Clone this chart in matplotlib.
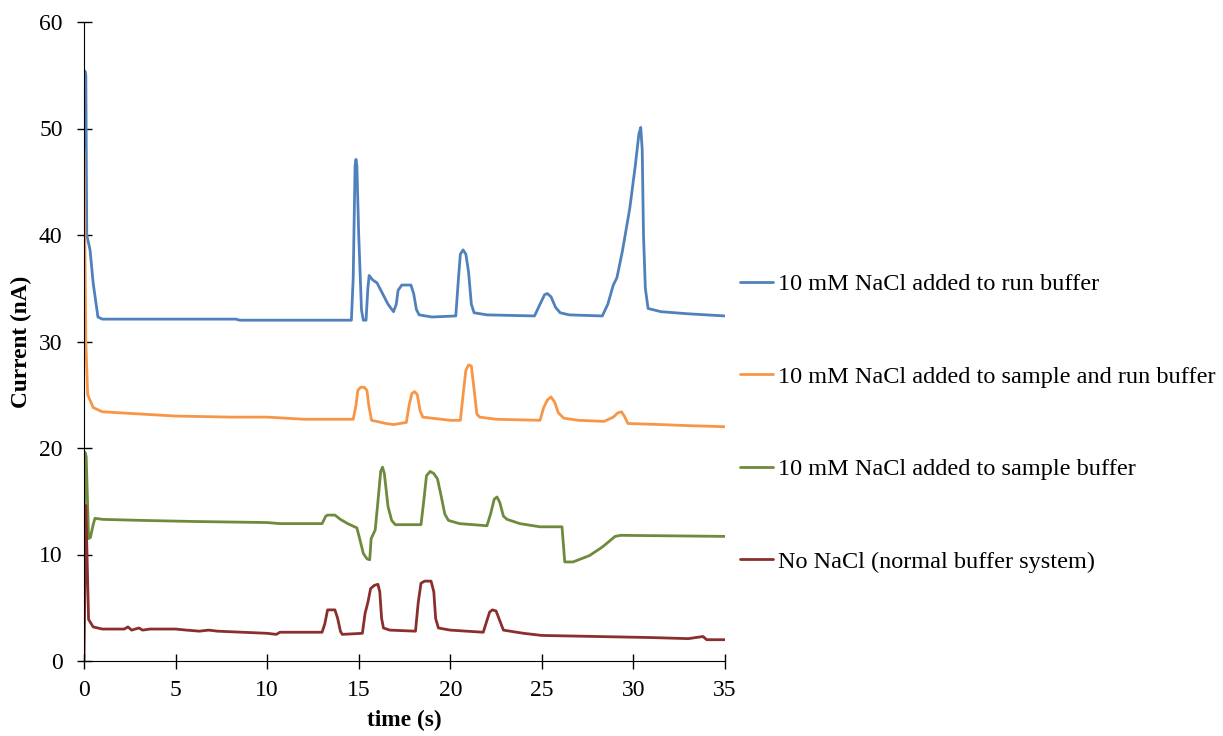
import matplotlib
matplotlib.use("Agg")
import matplotlib.pyplot as plt

plt.rcParams['font.family'] = ['Liberation Serif', 'DejaVu Serif']

# ---- data (time s, current nA) ----
run_t = [0, 0.05, 0.1, 0.15, 0.33, 0.5, 0.76, 1.0, 3, 6, 8.3, 8.5, 12, 14.6, 14.7, 14.8, 14.85, 14.9, 15.0, 15.15,
         15.25, 15.4, 15.5, 15.57, 15.75, 16.0, 16.3, 16.6, 16.9, 17.05, 17.15, 17.35, 17.85, 18.0, 18.15, 18.3,
         19.0, 20.3, 20.45, 20.55, 20.7, 20.85, 21.0, 21.15, 21.3, 22, 24.6, 24.9, 25.15, 25.3, 25.5, 25.75, 26.0,
         26.5, 28.3, 28.6, 28.9, 29.1, 29.4, 29.8, 30.1, 30.3, 30.4, 30.48, 30.55, 30.65, 30.8, 31.5, 33, 35]
run_v = [48, 55.4, 55, 40, 38.6, 35.5, 32.3, 32.1, 32.1, 32.1, 32.1, 32.0, 32.0, 32.0, 36, 46.5, 47.1, 46.5, 40, 33,
         32.0, 32.0, 35, 36.2, 35.8, 35.5, 34.5, 33.5, 32.8, 33.5, 34.8, 35.3, 35.3, 34.5, 33.0, 32.5,
         32.3, 32.4, 36, 38.2, 38.6, 38.2, 36.5, 33.5, 32.7, 32.5, 32.4, 33.5, 34.4, 34.5, 34.2, 33.2, 32.7,
         32.5, 32.4, 33.5, 35.3, 36.0, 38.5, 42.5, 46.5, 49.5, 50.1, 48, 40, 35, 33.1, 32.8, 32.6, 32.4]

samprun_t = [0, 0.1, 0.2, 0.5, 1, 3, 5, 8, 10, 12, 14.7, 14.85, 14.95, 15.1, 15.3, 15.45, 15.55, 15.7, 16.5, 16.9,
             17.6, 17.75, 17.9, 18.05, 18.2, 18.35, 18.5, 20, 20.55, 20.7, 20.85, 21.0, 21.15, 21.3, 21.45, 21.6,
             22.5, 24.9, 25.1, 25.3, 25.5, 25.7, 25.9, 26.2, 27, 28.4, 28.9, 29.15, 29.35, 29.5, 29.7, 31.5, 33, 35]
samprun_v = [48, 30, 25, 23.8, 23.4, 23.2, 23.0, 22.9, 22.9, 22.7, 22.7, 24.0, 25.4, 25.7, 25.7, 25.4, 24.0, 22.6,
             22.3, 22.2, 22.4, 24.0, 25.1, 25.3, 25.0, 23.5, 22.9, 22.6, 22.6, 25.0, 27.3, 27.8, 27.7, 25.5, 23.2,
             22.9, 22.7, 22.6, 23.8, 24.5, 24.8, 24.3, 23.3, 22.8, 22.6, 22.5, 22.9, 23.3, 23.4, 23.0, 22.3, 22.2,
             22.1, 22.0]

samp_t = [0, 0.05, 0.12, 0.25, 0.35, 0.5, 0.6, 1, 3.2, 6, 10, 10.7, 13.0, 13.2, 13.3, 13.7, 14.0, 14.4, 14.9, 15.05,
          15.25, 15.45, 15.6, 15.68, 15.9, 16.05, 16.2, 16.3, 16.4, 16.6, 16.8, 17.0, 18.0, 18.4, 18.55, 18.7,
          18.9, 19.1, 19.3, 19.5, 19.7, 19.9, 20.5, 22.0, 22.2, 22.4, 22.55, 22.7, 22.9, 23.1, 23.8, 24.9, 26.1,
          26.25, 26.7, 27.6, 28.3, 29.0, 29.3, 35]
samp_v = [7.4, 19.6, 19.2, 11.5, 11.6, 12.8, 13.4, 13.3, 13.2, 13.1, 13.0, 12.9, 12.9, 13.6, 13.7, 13.7, 13.3, 12.9,
          12.5, 11.5, 10.1, 9.6, 9.5, 11.5, 12.3, 15.0, 17.8, 18.2, 17.6, 14.5, 13.2, 12.8, 12.8, 12.8, 15.0, 17.4,
          17.8, 17.6, 17.1, 15.5, 13.8, 13.2, 12.9, 12.7, 13.8, 15.2, 15.4, 14.9, 13.6, 13.3, 12.9, 12.6, 12.6,
          9.3, 9.3, 9.9, 10.7, 11.7, 11.8, 11.7]

none_t = [0, 0.1, 0.25, 0.5, 1, 2.2, 2.4, 2.6, 3.0, 3.2, 3.6, 4.2, 5, 5.6, 6.3, 6.8, 7.3, 10, 10.5, 10.7, 13.0, 13.15,
          13.3, 13.7, 13.85, 14.0, 14.1, 15.2, 15.35, 15.5, 15.65, 15.85, 16.05, 16.15, 16.25, 16.35, 16.7, 18.1,
          18.25, 18.4, 18.6, 18.95, 19.1, 19.2, 19.35, 20, 21.8, 22.0, 22.15, 22.3, 22.5, 22.7, 22.9, 24, 25, 28,
          31, 33, 33.8, 34.0, 35]
none_v = [0, 14.6, 3.9, 3.2, 3.0, 3.0, 3.2, 2.9, 3.1, 2.9, 3.0, 3.0, 3.0, 2.9, 2.8, 2.9, 2.8, 2.6, 2.5, 2.7, 2.7, 3.5,
          4.8, 4.8, 4.0, 2.8, 2.5, 2.6, 4.5, 5.5, 6.8, 7.1, 7.2, 6.5, 4.0, 3.1, 2.9, 2.8,
          5.5, 7.3, 7.5, 7.5, 6.5, 4.0, 3.1, 2.9, 2.7, 3.8, 4.6, 4.8, 4.7, 3.8, 2.9, 2.6, 2.4, 2.3,
          2.2, 2.1, 2.3, 2.0, 2.0]

labels = ["10 mM NaCl added to run buffer",
          "10 mM NaCl added to sample and run buffer",
          "10 mM NaCl added to sample buffer",
          "No NaCl (normal buffer system)"]
colors = ["#4F81BD", "#F79646", "#6E8B3D", "#8B2F2C"]

x_ticks = [0, 5, 10, 15, 20, 25, 30, 35]
y_ticks = [0, 10, 20, 30, 40, 50, 60]

fig = plt.figure(figsize=(12.23, 7.36), dpi=100)
ax = fig.add_axes([84 / 1223, 75 / 736, (725 - 84) / 1223, (661 - 22) / 736])

series = [(run_t, run_v), (samprun_t, samprun_v), (samp_t, samp_v), (none_t, none_v)]
for (t, v), lab, c in zip(series, labels, colors):
    ax.plot(t, v, color=c, lw=2.0, label=lab, solid_joinstyle='round', solid_capstyle='round')

ax.set_xlim(0, 35)
ax.set_ylim(0, 60)
ax.set_xticks(x_ticks)
ax.set_yticks(y_ticks)
ax.tick_params(direction='inout', length=10.8, width=1, labelsize=17)
ax.tick_params(axis='y', pad=10)
ax.tick_params(axis='x', pad=8)
for s in ['top', 'right']:
    ax.spines[s].set_visible(False)
ax.set_xlabel("time (s)", fontsize=16.8, fontweight='bold')
ax.set_ylabel("Current (nA)", fontsize=16.8, fontweight='bold')
ax.xaxis.set_label_coords((404 - 84) / 641, (661 - 710) / 639)
ax.yaxis.set_label_coords((32 - 84) / 641, 0.5)

leg = fig.legend(loc='center left', bbox_to_anchor=(740 / 1223, (736 - 423) / 736), frameon=False,
                 fontsize=17.5, labelspacing=2.9, handlelength=1.36, handletextpad=0.21,
                 borderpad=0, borderaxespad=0)

fig.savefig("out.png", dpi=100)
